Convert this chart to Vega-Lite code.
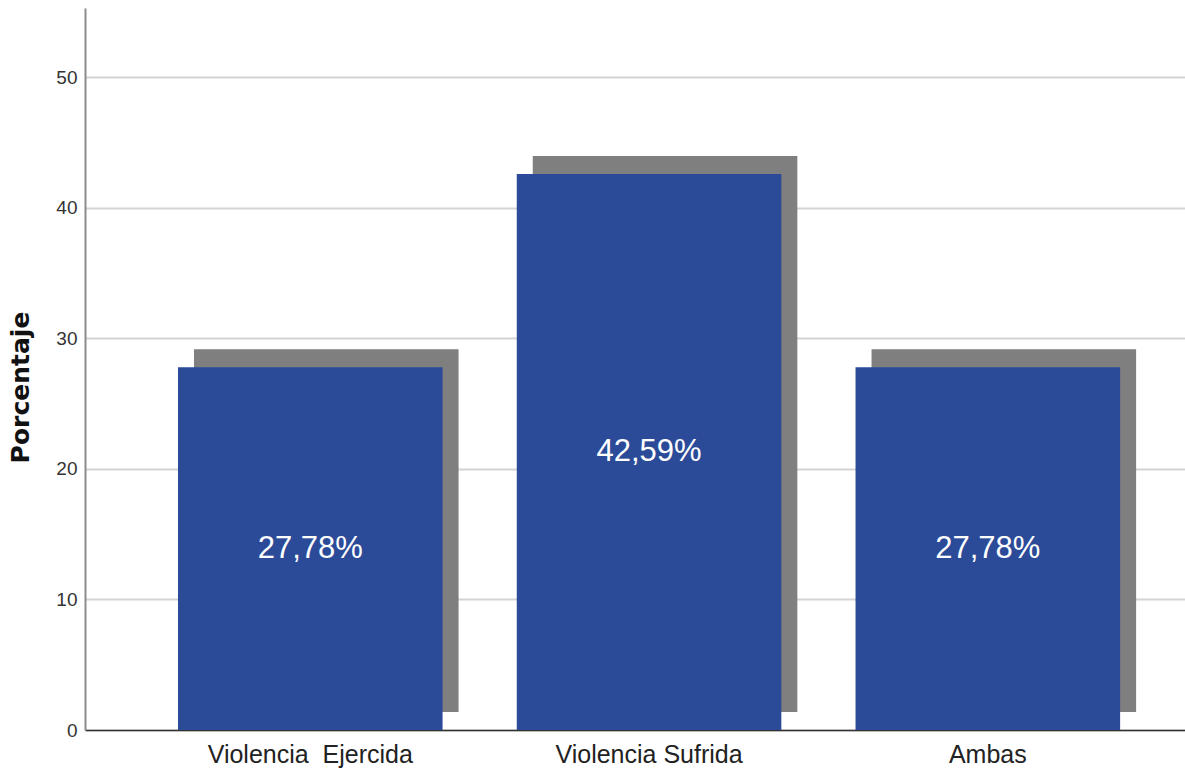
{
  "$schema": "https://vega.github.io/schema/vega-lite/v6.json",
  "autosize": {"type": "none"},
  "padding": {"left": 85, "top": 8, "right": 0, "bottom": 44},
  "width": 1100,
  "height": 722,
  "background": "white",
  "config": {"view": {"stroke": null}},
  "data": {"values": [
    {"tipo": "Violencia\u00a0 Ejercida", "porcentaje": 27.78, "etiqueta": "27,78%"},
    {"tipo": "Violencia Sufrida", "porcentaje": 42.59, "etiqueta": "42,59%"},
    {"tipo": "Ambas", "porcentaje": 27.78, "etiqueta": "27,78%"}
  ]},
  "encoding": {
    "x": {
      "field": "tipo", "type": "nominal", "sort": null,
      "scale": {"paddingInner": 0.219, "paddingOuter": 0.233, "align": 0.589},
      "axis": {
        "title": null, "labelAngle": 0, "ticks": false, "tickSize": 0, "labelLimit": 0,
        "labelFont": "Liberation Sans", "labelFontSize": 25, "labelColor": "#222",
        "labelPadding": 12, "domainColor": "#333", "domainWidth": 1.5
      }
    }
  },
  "layer": [
    {
      "layer": [
        {
          "mark": {"type": "bar", "color": "#7f7f7f", "xOffset": 16, "yOffset": -18},
          "encoding": {
            "y": {"field": "porcentaje", "type": "quantitative",
                  "scale": {"domain": [0, 55.3], "nice": false, "zero": true},
                  "axis": {
                    "title": "Porcentaje", "values": [0, 10, 20, 30, 40, 50],
                    "ticks": false, "tickSize": 0, "labelPadding": 8,
                    "labelFont": "Liberation Sans", "labelFontSize": 19, "labelColor": "#333",
                    "domainColor": "#8c8c8c", "domainWidth": 2,
                    "gridColor": "#d3d3d3", "gridWidth": 2,
                    "titleFont": "DejaVu Sans", "titleFontWeight": "bold", "titleFontSize": 25,
                    "titleColor": "#111", "titleX": -52, "titleY": 379, "titleBaseline": "bottom"
                  }}
          }
        },
        {
          "mark": {"type": "bar", "color": "#2b4b99"},
          "encoding": {
            "y": {"field": "porcentaje", "type": "quantitative"}
          }
        }
      ]
    },
    {
      "mark": {"type": "text", "color": "white", "font": "Liberation Sans", "fontSize": 31, "baseline": "middle"},
      "encoding": {
        "y": {"field": "porcentaje", "type": "quantitative",
              "scale": {"domain": [0, 110.6], "nice": false}, "axis": null},
        "text": {"field": "etiqueta"}
      }
    }
  ],
  "resolve": {"scale": {"y": "independent"}}
}
